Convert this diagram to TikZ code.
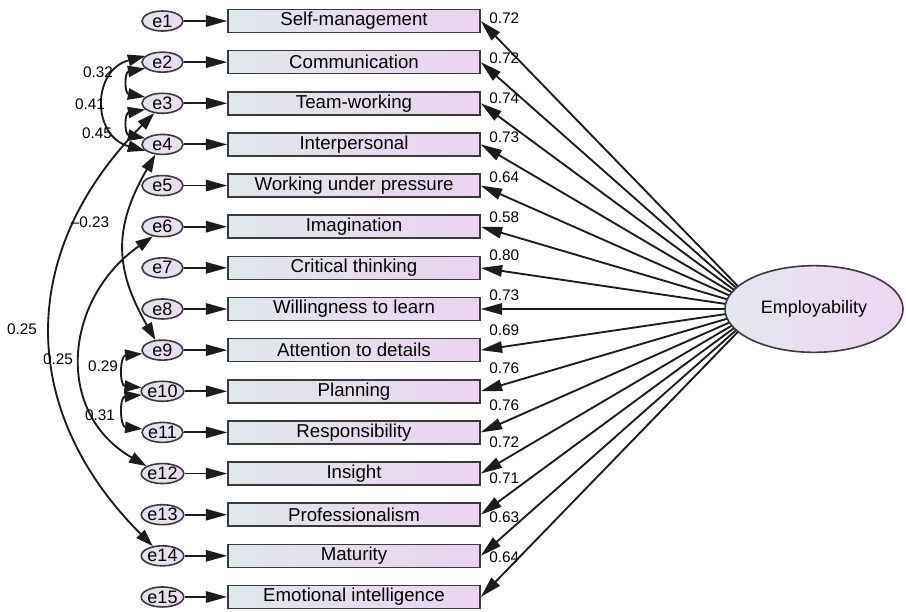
\documentclass[tikz,border=0pt]{standalone}
\usepackage{fontspec}
\setmainfont{Liberation Sans}
\usetikzlibrary{arrows.meta,shapes.geometric,backgrounds}
\definecolor{boxL}{HTML}{DFE8EA}
\definecolor{boxR}{HTML}{EBD3F0}
\definecolor{errL}{HTML}{E2E3EE}
\definecolor{errR}{HTML}{ECDCF1}
\definecolor{latL}{HTML}{E3E7F0}
\definecolor{latR}{HTML}{EED6F1}
\definecolor{lineC}{HTML}{1C1C1C}
\definecolor{bordC}{HTML}{3A3A3A}
\begin{document}
\begin{tikzpicture}[x=0.75pt,y=0.75pt,
  obs/.style={draw=bordC, line width=1.2pt, left color=boxL, right color=boxR,
    minimum width=189pt, minimum height=17.25pt, inner sep=0pt,
    font=\fontsize{14}{16}\selectfont},
  err/.style={ellipse, draw=bordC, line width=1.2pt, left color=errL, right color=errR,
    minimum width=30.75pt, minimum height=15pt, inner sep=0pt,
    font=\fontsize{13.5}{15}\selectfont},
  lat/.style={ellipse, draw=bordC, line width=1.2pt, left color=latL, right color=latR,
    minimum width=133.5pt, minimum height=65pt, inner sep=0pt,
    font=\fontsize{13.5}{15}\selectfont},
  reg/.style={draw=lineC, line width=1.4pt, -{Triangle[length=16pt,width=8.5pt]}},
  cov/.style={draw=lineC, line width=1.4pt,
    {Triangle[length=13pt,width=8.5pt]}-{Triangle[length=13pt,width=8.5pt]}},
  lbl/.style={font=\fontsize{11.5}{13}\selectfont, inner sep=0pt},
]
\useasboundingbox (0,0) rectangle (906,-611);

\foreach \i/\t in {1/Self-management,2/Communication,3/Team-working,4/Interpersonal,
  5/Working under pressure,6/Imagination,7/Critical thinking,8/Willingness to learn,
  9/Attention to details,10/Planning,11/Responsibility,12/Insight,13/Professionalism,
  14/Maturity,15/Emotional intelligence}{
  \node[obs] (o\i) at (354,{-(21+(\i-1)*41.14)}) {\t};
  \node[err] (e\i) at (162.5,{-(21+(\i-1)*41.14)}) {e\i};
  \draw[reg] (e\i) -- (o\i);
}

\node[lat] (emp) at (814,-309) {Employability};
\coordinate (hub) at (760,-309);

\begin{scope}[on background layer]
\foreach \i in {1,...,15}{
  \draw[reg] (hub) -- (o\i.east);
}
\end{scope}

\foreach \v/\ly in {0.72/18,0.72/58,0.74/98,0.73/137,0.64/177,0.58/217,0.80/255,
  0.73/295,0.69/330,0.76/368,0.76/405,0.72/442,0.71/478,0.63/517,0.64/557}{
  \node[lbl, anchor=west] at (489,-\ly) {\v};
}

% covariances
\draw[cov] (e2.200) to[out=190,in=170,looseness=1.9] (e3.160);
\draw[cov] (e2.160) to[out=195,in=165,looseness=1.5] (e4.200);
\draw[cov] (e3.200) to[out=190,in=170,looseness=1.9] (e4.160);
\draw[cov] (e4.235) to[out=240,in=120,looseness=1.15] (e9.125);
\draw[cov] (e3.230) to[out=225,in=135,looseness=1.14] (e14.135);
\draw[cov] (e6.225) to[out=215,in=150,looseness=1.2] (e12.155);
\draw[cov] (e9.190) to[out=185,in=175,looseness=1.7] (e10.170);
\draw[cov] (e10.190) to[out=185,in=175,looseness=1.7] (e11.170);

\node[lbl] at (98,-72) {0.32};
\node[lbl] at (90,-104) {0.41};
\node[lbl] at (97,-133) {0.45};
\node[lbl] at (90,-222) {–0.23};
\node[lbl] at (22,-329) {0.25};
\node[lbl] at (58,-359) {0.25};
\node[lbl] at (103,-366) {0.29};
\node[lbl] at (100,-415) {0.31};
\end{tikzpicture}
\end{document}
